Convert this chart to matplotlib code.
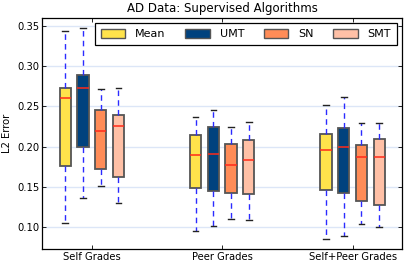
import matplotlib
matplotlib.use("Agg")
import matplotlib.pyplot as plt
from matplotlib.patches import Patch

groups = ["Self Grades", "Peer Grades", "Self+Peer Grades"]
methods = ["Mean", "UMT", "SN", "SMT"]
colors = ["#FFE34B", "#00427E", "#FF8C57", "#FFC0A6"]

# per method: values for the three groups
whis_hi = {"Mean": [0.344, 0.237, 0.252], "UMT": [0.347, 0.245, 0.262],
           "SN": [0.272, 0.225, 0.229], "SMT": [0.273, 0.231, 0.229]}
q3 = {"Mean": [0.273, 0.215, 0.216], "UMT": [0.289, 0.224, 0.223],
      "SN": [0.245, 0.204, 0.202], "SMT": [0.240, 0.208, 0.210]}
med = {"Mean": [0.261, 0.190, 0.196], "UMT": [0.273, 0.191, 0.200],
       "SN": [0.219, 0.177, 0.187], "SMT": [0.226, 0.184, 0.187]}
q1 = {"Mean": [0.176, 0.149, 0.147], "UMT": [0.200, 0.145, 0.143],
      "SN": [0.172, 0.143, 0.133], "SMT": [0.163, 0.141, 0.128]}
whis_lo = {"Mean": [0.106, 0.095, 0.086], "UMT": [0.136, 0.102, 0.089],
           "SN": [0.151, 0.110, 0.104], "SMT": [0.130, 0.109, 0.100]}

fig = plt.figure(figsize=(4.07, 2.68), dpi=100)
ax = fig.add_axes([0.104, 0.070, 0.884, 0.864])

offsets = [-0.204, -0.068, 0.068, 0.204]
for m, off, c in zip(methods, offsets, colors):
    stats = []
    for i in range(len(groups)):
        stats.append({"med": med[m][i], "q1": q1[m][i], "q3": q3[m][i],
                      "whislo": whis_lo[m][i], "whishi": whis_hi[m][i],
                      "fliers": []})
    pos = [i + 1 + off for i in range(len(groups))]
    ax.bxp(stats, positions=pos, widths=0.087, patch_artist=True,
           showfliers=False, manage_ticks=False,
           boxprops=dict(facecolor=c, edgecolor="#555555", linewidth=1.3),
           medianprops=dict(color="#FF2A1A", linewidth=1.1),
           whiskerprops=dict(color="#2B2BFF", linestyle=(0, (4, 3)), linewidth=1.0),
           capprops=dict(color="#222222", linewidth=1.0))

ax.set_xlim(0.62, 3.38)
ax.set_xticks([1, 2, 3])
ax.set_xticklabels(groups, fontsize=7.2)
ax.set_yticks([0.10, 0.15, 0.20, 0.25, 0.30, 0.35])
ax.set_yticklabels(["0.10", "0.15", "0.20", "0.25", "0.30", "0.35"], fontsize=7.2)
ax.yaxis.grid(True, color="#DCE6F7", linewidth=1.0)
ax.set_axisbelow(True)
ax.tick_params(direction="in", top=True, right=True, length=3, width=0.6, pad=2)
for s in ax.spines.values():
    s.set_linewidth(0.9)
ax.set_ylabel("L2 Error", fontsize=7.2, labelpad=4)
ax.set_title("AD Data: Supervised Algorithms", fontsize=8.5, pad=4)

handles = [Patch(facecolor=c, edgecolor="#555555", linewidth=1.0) for c in colors]
leg = ax.legend(handles, methods, loc="upper right", ncol=4, fontsize=8,
                fancybox=False, framealpha=1, edgecolor="black",
                handlelength=2.2, handleheight=0.95, borderpad=0.5,
                columnspacing=1.75, handletextpad=0.9)
leg.get_frame().set_linewidth(0.9)

fig.savefig("out.png", dpi=100)
